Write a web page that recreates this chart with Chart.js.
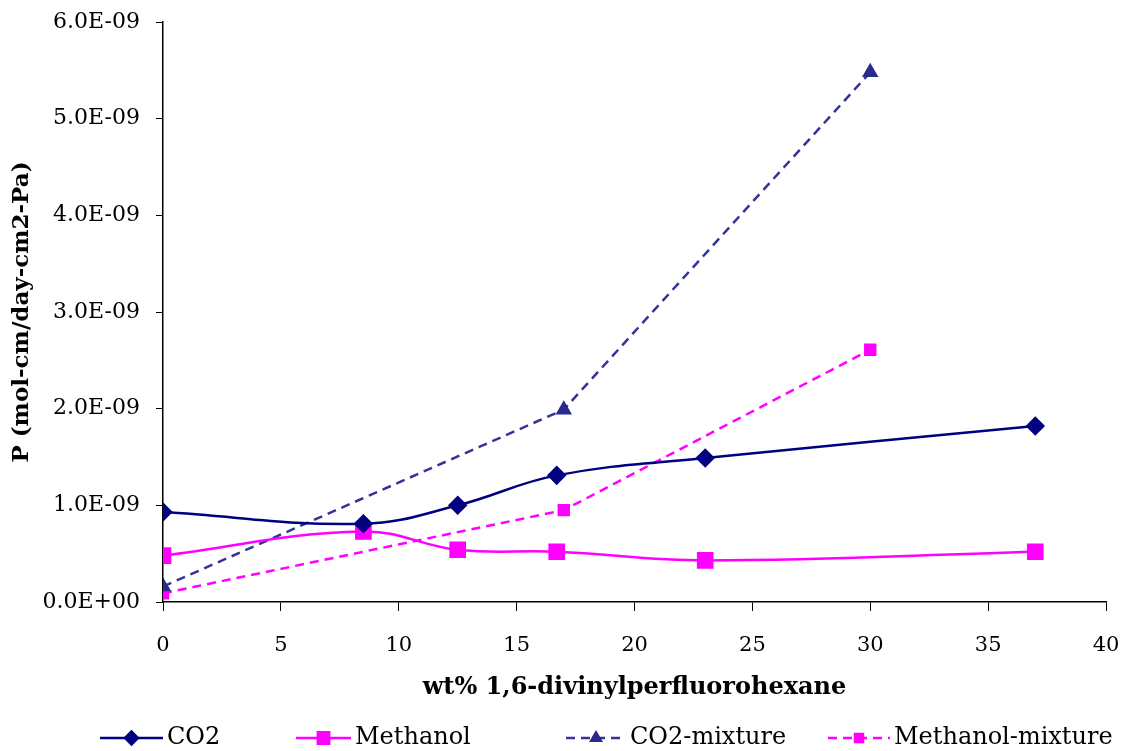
<!DOCTYPE html>
<html>
<head>
<meta charset="utf-8">
<script src="https://cdn.jsdelivr.net/npm/chart.js@4/dist/chart.umd.min.js"></script>
<style>
html,body{margin:0;padding:0;background:#fff;}
#wrap{width:1126px;height:751px;position:relative;}
</style>
</head>
<body>
<div id="wrap"><canvas id="c" width="1126" height="751"></canvas></div>
<script>
// ---- data ----
const seriesNames = ['CO2', 'Methanol', 'CO2-mixture', 'Methanol-mixture'];
const co2X = [0, 8.5, 12.5, 16.7, 23, 37];
const co2Y = [0.93e-9, 0.81e-9, 1.00e-9, 1.31e-9, 1.49e-9, 1.82e-9];
const methanolX = [0, 8.5, 12.5, 16.7, 23, 37];
const methanolY = [0.48e-9, 0.73e-9, 0.54e-9, 0.52e-9, 0.43e-9, 0.52e-9];
const co2MixX = [0, 17, 30];
const co2MixY = [0.16e-9, 1.99e-9, 5.48e-9];
const methanolMixX = [0, 17, 30];
const methanolMixY = [0.09e-9, 0.95e-9, 2.61e-9];
const xTitle = 'wt% 1,6-divinylperfluorohexane';
const yTitle = 'P (mol-cm/day-cm2-Pa)';

const pts = (xs, ys) => xs.map((x, i) => ({x: x, y: ys[i]}));

function fmtExp(v) {
  if (Math.abs(v) < 1e-15) return '0.0E+00';
  let s = v.toExponential(1).toUpperCase();
  let [m, e] = s.split('E');
  let sign = e[0] === '-' ? '-' : '+';
  let digits = e.replace(/[+-]/, '');
  if (digits.length < 2) digits = '0' + digits;
  return m + 'E' + sign + digits;
}

const SERIF = '"DejaVu Serif", "Liberation Serif", serif';

const legendPlugin = {
  id: 'customLegend',
  afterDraw(chart) {
    const ctx = chart.ctx;
    const starts = [100, 296, 566, 828];
    const lens = [63, 55, 60, 62];
    const y = 738;
    ctx.save();
    chart.data.datasets.forEach((ds, i) => {
      const x0 = starts[i], x1 = starts[i] + lens[i];
      ctx.beginPath();
      ctx.setLineDash(ds.borderDash || []);
      ctx.strokeStyle = ds.borderColor;
      ctx.lineWidth = ds.borderWidth;
      ctx.moveTo(x0, y);
      ctx.lineTo(x1, y);
      ctx.stroke();
      ctx.setLineDash([]);
      ctx.fillStyle = ds.pointBackgroundColor;
      ctx.strokeStyle = ds.pointBorderColor;
      Chart.helpers.drawPoint(ctx, {pointStyle: ds.pointStyle, radius: ds.pointRadius * 0.8, borderWidth: 1, rotation: 0}, (x0 + x1) / 2, y);
      ctx.fillStyle = '#000';
      ctx.font = '24px ' + SERIF;
      ctx.textAlign = 'left';
      ctx.textBaseline = 'middle';
      ctx.fillText(ds.label, x1 + 4, y);
    });
    ctx.restore();
  }
};

new Chart(document.getElementById('c'), {
  type: 'line',
  data: {
    datasets: [
      {label: seriesNames[0], data: pts(co2X, co2Y), borderColor: '#000080', borderWidth: 2.5,
       pointStyle: 'rectRot', pointRadius: 8, pointBackgroundColor: '#000080', pointBorderColor: '#000080',
       tension: 0.4, fill: false},
      {label: seriesNames[1], data: pts(methanolX, methanolY), borderColor: '#FF00FF', borderWidth: 2.5,
       pointStyle: 'rect', pointRadius: 10, pointBackgroundColor: '#FF00FF', pointBorderColor: '#FF00FF',
       tension: 0.4, fill: false},
      {label: seriesNames[2], data: pts(co2MixX, co2MixY), borderColor: '#333399', borderWidth: 2.5,
       borderDash: [9, 6], pointStyle: 'triangle', pointRadius: 7, pointBackgroundColor: '#2a2a8c', pointBorderColor: '#2a2a8c',
       tension: 0, fill: false},
      {label: seriesNames[3], data: pts(methanolMixX, methanolMixY), borderColor: '#FF00FF', borderWidth: 2.5,
       borderDash: [9, 6], pointStyle: 'rect', pointRadius: 7, pointBackgroundColor: '#FF00FF', pointBorderColor: '#FF00FF',
       tension: 0, fill: false}
    ]
  },
  options: {
    responsive: false,
    animation: false,
    layout: {padding: {left: 0, right: 20, top: 22, bottom: 49}},
    plugins: {legend: {display: false}, tooltip: {enabled: false}},
    scales: {
      x: {
        type: 'linear', min: 0, max: 40,
        ticks: {stepSize: 5, color: '#000', font: {family: SERIF, size: 21}, padding: 22, maxRotation: 0},
        grid: {display: true, drawOnChartArea: false, drawTicks: true, tickLength: 9, color: '#000', lineWidth: 1},
        border: {display: true, color: '#000', width: 1.5},
        title: {display: true, text: xTitle, color: '#000', font: {family: SERIF, size: 24, weight: 'bold'}, padding: {top: 10, bottom: 0}},
        afterFit(s) { s.height = 100; s.paddingLeft = 0; s.paddingRight = 0; }
      },
      y: {
        min: 0, max: 6e-9,
        ticks: {stepSize: 1e-9, color: '#000', font: {family: SERIF, size: 22}, padding: 16, callback: v => fmtExp(v)},
        grid: {display: true, drawOnChartArea: false, drawTicks: true, tickLength: 7, color: '#000', lineWidth: 1},
        border: {display: true, color: '#000', width: 1.5},
        title: {display: true, text: yTitle, color: '#000', font: {family: SERIF, size: 23, weight: 'bold'}, padding: {top: 8, bottom: 4}},
        afterFit(s) { s.width = 163; s.paddingTop = 0; s.paddingBottom = 0; }
      }
    }
  },
  plugins: [legendPlugin]
});
</script>
</body>
</html>
